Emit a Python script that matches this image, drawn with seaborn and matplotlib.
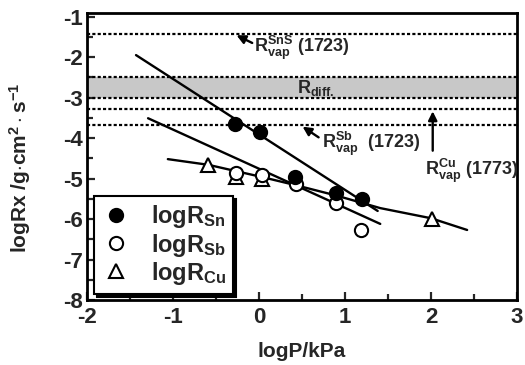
import matplotlib
matplotlib.use("Agg")
import matplotlib.pyplot as plt
import seaborn as sns
import pandas as pd
from matplotlib.lines import Line2D
from matplotlib.ticker import MultipleLocator

# ---------------- data ----------------
sn_x = [-0.28, 0.01, 0.42, 0.90, 1.20]
sn_y = [-3.64, -3.84, -4.95, -5.36, -5.50]
sb_x = [-0.27, 0.03, 0.43, 0.90, 1.19]
sb_y = [-4.87, -4.92, -5.14, -5.60, -6.26]
cu_x = [-0.59, -0.27, 0.03, 2.01]
cu_y = [-4.67, -4.95, -5.00, -6.00]

sn_fit_x = [-1.43, 1.38]
sn_fit_y = [-1.95, -5.80]
sb_fit_x = [-1.29, 1.41]
sb_fit_y = [-3.51, -6.12]
cu_fit_x = [-1.06, -0.59, -0.26, 0.03, 0.42, 0.90, 1.41, 2.00, 2.42]
cu_fit_y = [-4.52, -4.66, -4.82, -4.96, -5.16, -5.42, -5.73, -5.98, -6.27]

hline_vals = [-1.43, -2.50, -3.00, -3.27, -3.68]
band = [-2.50, -3.00]

xticks = [-2, -1, 0, 1, 2, 3]
yticks = [-1, -2, -3, -4, -5, -6, -7, -8]

# ---------------- style ----------------
sns.set_theme(style="white")
plt.rcParams['font.family'] = ['Liberation Sans', 'DejaVu Sans']
plt.rcParams['font.weight'] = 'bold'
plt.rcParams['axes.unicode_minus'] = False
plt.rcParams['mathtext.fontset'] = 'custom'
plt.rcParams['mathtext.rm'] = 'Liberation Sans:bold'
plt.rcParams['mathtext.bf'] = 'Liberation Sans:bold'
plt.rcParams['mathtext.it'] = 'Liberation Sans:bold'

fig = plt.figure(figsize=(5.25, 3.65), dpi=100)
ax = fig.add_axes([87/525, 1-300/365, 430/525, 287/365])

# band and dotted lines
ax.axhspan(band[1], band[0], color='#c8c8c8', zorder=0, lw=0)
for v in hline_vals:
    ax.axhline(v, color='black', lw=1.6, ls=(0, (1.4, 1.0)), zorder=1)

# fitted lines
for fx, fy in [(sn_fit_x, sn_fit_y), (sb_fit_x, sb_fit_y), (cu_fit_x, cu_fit_y)]:
    sns.lineplot(x=fx, y=fy, ax=ax, color='black', lw=1.7, sort=False,
                 estimator=None, zorder=2)

ms = 9.5
ax.plot(cu_x, cu_y, ls='none', marker='^', ms=ms, mfc='white', mec='black',
        mew=1.5, zorder=3)
ax.plot(sb_x, sb_y, ls='none', marker='o', ms=ms, mfc='white', mec='black',
        mew=1.5, zorder=4)
ax.plot(sn_x, sn_y, ls='none', marker='o', ms=ms, mfc='black', mec='black',
        mew=1.5, zorder=5)

# annotations
tkw = dict(fontsize=13, fontweight='bold', va='center', ha='left', zorder=6)
akw = dict(arrowstyle='-|>', color='black', lw=1.7, mutation_scale=13)
ax.annotate('', xy=(-0.29, -1.43), xytext=(-0.05, -1.68), arrowprops=akw, zorder=6)
ax.text(-0.06, -1.76, r'$\mathregular{R^{SnS}_{vap}}$ (1723)', **tkw)
ax.annotate('', xy=(0.48, -3.68), xytext=(0.72, -4.02), arrowprops=akw, zorder=6)
ax.text(0.73, -4.14, r'$\mathregular{R^{Sb}_{vap}}$  (1723)', **tkw)
ax.annotate('', xy=(2.02, -3.27), xytext=(2.02, -4.38), arrowprops=akw, zorder=6)
ax.text(1.93, -4.80, r'$\mathregular{R^{Cu}_{vap}}$ (1773)', **tkw)
ax.text(0.44, -2.76, r'R$\mathregular{_{diff.}}$', fontsize=13,
        fontweight='bold', va='center', ha='left', zorder=6)

# legend
handles = [
    Line2D([], [], ls='none', marker='o', ms=ms, mfc='black', mec='black', mew=1.5),
    Line2D([], [], ls='none', marker='o', ms=ms, mfc='white', mec='black', mew=1.5),
    Line2D([], [], ls='none', marker='^', ms=ms, mfc='white', mec='black', mew=1.5),
]
labels = [r'logR$\mathregular{_{Sn}}$', r'logR$\mathregular{_{Sb}}$',
          r'logR$\mathregular{_{Cu}}$']
leg = ax.legend(handles, labels, loc='lower left', bbox_to_anchor=(0.005, 0.005),
                frameon=True, fancybox=False,
                shadow={'color': 'black', 'alpha': 1},
                edgecolor='black', framealpha=1, fontsize=17,
                handletextpad=0.8, borderpad=0.3, labelspacing=0.05,
                handlelength=1.3, borderaxespad=0.2)
leg.get_frame().set_linewidth(1.5)

# axes
ax.set_xlim(-2, 3)
ax.set_ylim(-8, -0.91)
ax.set_xticks(xticks)
ax.set_yticks(yticks)
ax.xaxis.set_minor_locator(MultipleLocator(0.5))
ax.yaxis.set_minor_locator(MultipleLocator(0.5))
ax.tick_params(which='both', direction='in', left=True, bottom=True,
               top=False, right=False, width=1.6, labelsize=16)
ax.tick_params(axis='x', which='major', pad=5)
ax.tick_params(axis='y', which='major', pad=3)
ax.tick_params(which='major', length=6)
ax.tick_params(which='minor', length=4)
for lab in ax.get_xticklabels() + ax.get_yticklabels():
    lab.set_fontweight('bold')
for s in ax.spines.values():
    s.set_linewidth(2.0)
    s.set_color('black')

ax.set_xlabel('logP/kPa', fontsize=15, fontweight='bold')
ax.set_ylabel(r'logRx /g$\cdot$cm$^{2}\cdot$s$^{-1}$', fontsize=15,
              fontweight='bold')
ax.xaxis.set_label_coords(0.5, -0.145)
ax.yaxis.set_label_coords(-0.125, 0.46)

fig.savefig('out.png', dpi=100)
